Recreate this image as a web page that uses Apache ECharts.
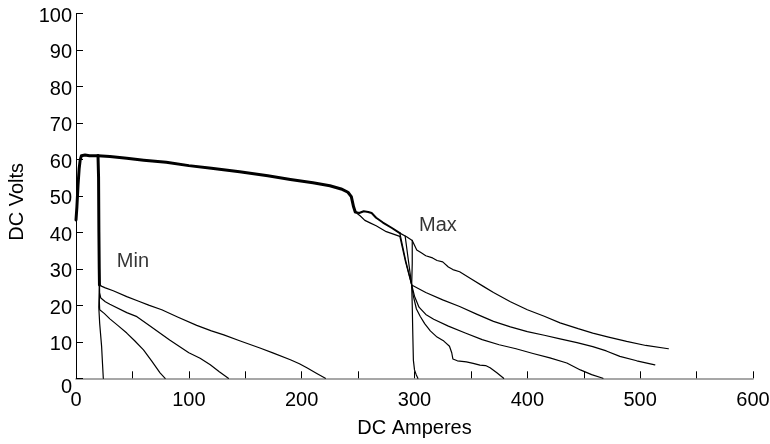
<!DOCTYPE html>
<html>
<head>
<meta charset="utf-8">
<script src="https://cdn.jsdelivr.net/npm/echarts@6/dist/echarts.min.js"></script>
<style>html,body{margin:0;padding:0;background:#fff}#c{width:770px;height:444px}</style>
</head>
<body>
<div id="c"></div>
<script>
// ---- data (DC Amperes, DC Volts) ----
var xTicks = [0, 100, 200, 300, 400, 500, 600];
var yTicks = [0, 10, 20, 30, 40, 50, 60, 70, 80, 90, 100];

// common start (all curves)
var trunkStart = [[0,43.4],[0.8,47],[1.8,53],[2.8,57.5],[3.7,59.8],[4.8,61],[6,61.3],[8,61.2],[12,61],[16,61],[19.5,61]];
// Min curves: shared vertical drop, then four branches
var minDrop = [[19.5,61],[20,55],[20.3,40],[20.6,30],[20.8,25.6]];
var min1 = [[20.8,25.6],[23,25.2],[26,24.8],[33,24],[45,22.4],[55,21.2],[65,20],[76,18.8],[90,16.8],[107,14.5],[120,13],[131,11.9],[145,10.3],[163,8.3],[175,6.9],[190,5.1],[198,4],[205,2.8],[213,1.4],[221,0]];
var min2 = [[20.8,25.6],[20.9,23.5],[22,22],[26,21],[30,20.3],[45,18],[54,16.9],[65,14.5],[83,10.5],[100,7],[110,5.5],[119,3.7],[127,1.8],[135,0]];
var min3 = [[20.8,25.6],[20.7,21],[21,18.8],[25,17.8],[30,16.3],[37,14.5],[45,12.4],[52,10.3],[59.8,7.8],[67,4.8],[74.5,1.5],[79,0]];
var min4 = [[20.8,25.6],[20.5,22],[20.2,19.5],[21,15],[22.7,8.7],[23.5,4],[24.2,0]];
// Max curves: shared plateau, then bump paths, then five branches
var maxTrunk = [[19.5,61],[30,60.8],[45,60.3],[60,59.8],[80,59.2],[100,58.3],[120,57.6],[145,56.6],[170,55.5],[190,54.5],[210,53.6],[225,52.8],[235,51.9],[241,51],[244,49.8],[246,47],[247.5,45.6]];
var bumpUpper = [[247.5,45.6],[251,45.3],[255,45.8],[259,45.6],[262,45.3],[266,44],[272,42.7],[280,41.2],[287,39.8]];
var bumpLower = [[247.5,45.6],[252,44.5],[256,43.3],[260.6,42.6],[266,41.8],[275,40.2],[287,38.9]];
var maxA = [[287,39.8],[293,38.8],[298,37.8],[300,36.5],[302,35.2],[306,34.4],[310,33.6],[316,33],[320,32.3],[325,31.9],[330,30.5],[334,29.8],[340,29.2],[350,27.3],[361,25.2],[370,23.5],[385,21],[400,18.8],[415,17],[429,15.2],[445,13.6],[458,12.4],[472,11.3],[488,10.1],[505,9],[525,8.1]];
var maxB = [[287,39.8],[292,32.5],[297.5,25.6],[310,23.5],[325,21.5],[340,19.7],[355,17.6],[370,15.6],[385,14.1],[400,12.8],[415,11.8],[429,10.8],[444,9.8],[458,8.7],[470,7.5],[482,6],[497,4.8],[513,3.7]];
var maxC = [[291.7,39],[294.5,32.5],[297.5,25.6],[300,22.5],[304,19.5],[310,17.5],[317,16.2],[330,14.3],[345,12.4],[360,10.6],[375,9.2],[390,8.1],[405,6.8],[420,5.6],[435,4.2],[447,2.3],[457,1],[467,0]];
var maxD = [[298,37.8],[298,31.5],[297.5,25.6],[299,22.5],[301.7,19],[305,17],[309,15],[314,13],[320,11.3],[326,10.2],[331,8.8],[333,7],[334,5.3],[338,4.8],[346,4.5],[352,4.1],[358,3.6],[363,3.5],[367,2.9],[373,1.5],[379,0]];
var maxE = [[287,38.9],[292,32],[297.5,25.6],[298,20],[298.5,12],[299,5],[300,2.3],[301.5,1],[303,0]];

// annotations (text, data position)
var annoText = ['Min', 'Max'];
var annoX = [50.5, 320.8];
var annoY = [32.1, 41.8];

var FONT = 'Liberation Sans, Arial, Helvetica, sans-serif';
var chart = echarts.init(document.getElementById('c'), null, {renderer: 'canvas'});

function line(name, data, w) {
  return {
    name: name, type: 'line', data: data, showSymbol: false, symbol: 'none',
    smooth: false, silent: true, z: 3,
    lineStyle: {color: '#000', width: w, join: 'round', cap: 'round'}
  };
}

var series = [
  line('trunkStart', trunkStart, 3),
  line('minDrop', minDrop, 3),
  line('min1', min1, 1.2),
  line('min2', min2, 1.2),
  line('min3', min3, 1.2),
  line('min4', min4, 1.2),
  line('maxTrunk', maxTrunk, 3),
  line('bumpUpper', bumpUpper, 2),
  line('bumpLower', bumpLower, 1.2),
  line('maxA', maxA, 1.2),
  line('maxB', maxB, 1.2),
  line('maxC', maxC, 1.2),
  line('maxD', maxD, 1.2),
  line('maxE', maxE, 1.2),
  {
    name: 'labels', type: 'scatter', silent: true, symbolSize: 1,
    itemStyle: {color: 'rgba(0,0,0,0)'},
    data: annoText.map(function (t, i) { return {value: [annoX[i], annoY[i]], name: t}; }),
    label: {show: true, position: 'inside', formatter: '{b}', color: '#000', fontSize: 20, fontFamily: FONT}
  }
];

chart.setOption({
  animation: false,
  backgroundColor: '#fff',
  grid: {left: 76, right: 17, top: 13.5, bottom: 65.7, containLabel: false, outerBoundsMode: 'none'},
  xAxis: {
    type: 'value', min: xTicks[0], max: xTicks[xTicks.length - 1], interval: 50,
    name: 'DC Amperes', nameLocation: 'middle', nameGap: 40,
    nameTextStyle: {fontSize: 20, color: '#000', fontFamily: FONT},
    axisLine: {show: true, onZero: false, lineStyle: {color: '#8a8a8a', width: 1.6}},
    axisTick: {show: true, inside: true, length: 7, lineStyle: {color: '#000', width: 1}},
    axisLabel: {
      margin: 12, fontSize: 20, color: '#000', fontFamily: FONT,
      formatter: function (v) { return xTicks.indexOf(v) >= 0 ? String(v) : ''; }
    },
    splitLine: {show: false}
  },
  yAxis: {
    type: 'value', min: yTicks[0], max: yTicks[yTicks.length - 1], interval: 10,
    name: 'DC Volts', nameLocation: 'middle', nameGap: 49,
    nameTextStyle: {fontSize: 20, color: '#000', fontFamily: FONT, padding: [0, 12, 0, 0]},
    axisLine: {show: true, onZero: false, lineStyle: {color: '#000', width: 1}},
    axisTick: {show: true, inside: true, length: 7, lineStyle: {color: '#000', width: 1}},
    axisLabel: {
      margin: 4, fontSize: 20, color: '#000', fontFamily: FONT, padding: [6, 0, 0, 0],
      formatter: function (v) { return v === 0 ? '{z|0}' : String(v); },
      rich: {z: {padding: [12, 0, 0, 0], fontSize: 20, color: '#000', fontFamily: FONT}}
    },
    splitLine: {show: false}
  },
  series: series
});
</script>
</body>
</html>
